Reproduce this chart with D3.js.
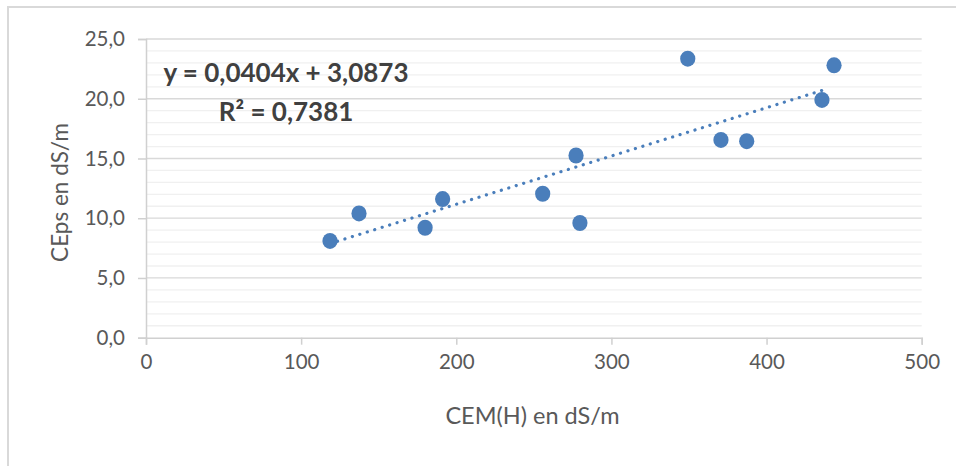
<!DOCTYPE html>
<html><head><meta charset="utf-8">
<script src="https://cdn.jsdelivr.net/npm/d3@7"></script>
<style>body{margin:0;background:#fff}svg{display:block}</style>
</head><body>
<script>
const xValues = [118.6, 137.3, 179.9, 191.2, 255.7, 277.2, 279.7, 349.2, 370.6, 387.2, 435.7, 443.5];
const yValues = [8.1, 10.4, 9.2, 11.6, 12.05, 15.25, 9.6, 23.35, 16.55, 16.45, 19.9, 22.8];
const xTicks = [0, 100, 200, 300, 400, 500];
const yTicks = [0, 5, 10, 15, 20, 25];
const yMinor = d3.range(0, 25.01, 1);
const slope = 0.0404, intercept = 3.0873;
const eqText = "y = 0,0404x + 3,0873";
const r2Text = "R² = 0,7381";
const xTitle = "CEM(H) en dS/m";
const yTitle = "CEps en dS/m";

const W = 956, H = 466;
const svg = d3.select("body").append("svg").attr("width", W).attr("height", H);
const font = "Lato, 'Open Sans', sans-serif";

// frame
svg.append("path").attr("d", `M8,467 L8,7 L957,7`).attr("fill","none").attr("stroke","#d9d9d9").attr("stroke-width",2);

const x = d3.scaleLinear().domain([0, 500]).range([146, 921.7]);
const y = d3.scaleLinear().domain([0, 25]).range([337.7, 39]);

// minor gridlines
svg.append("g").selectAll("line").data(yMinor.filter(v => v % 5 !== 0)).join("line")
  .attr("x1", x(0)).attr("x2", x(500)).attr("y1", d => y(d)).attr("y2", d => y(d))
  .attr("stroke", "#f0f0f0").attr("stroke-width", 1.3);
// major gridlines
svg.append("g").selectAll("line").data(yTicks.filter(v => v > 0)).join("line")
  .attr("x1", x(0)).attr("x2", x(500)).attr("y1", d => y(d)).attr("y2", d => y(d))
  .attr("stroke", "#d9d9d9").attr("stroke-width", 1.3);

// axes
const xAxis = d3.axisBottom(x).tickValues(xTicks).tickSize(7).tickPadding(10).tickFormat(d3.format("d"));
const gx = svg.append("g").attr("transform", `translate(0,${y(0)})`).call(xAxis);
gx.select(".domain").attr("stroke", "#d0d0d0").attr("stroke-width", 1.5);
gx.selectAll(".tick line").attr("stroke", "#d0d0d0").attr("stroke-width", 1.5);
gx.selectAll(".tick text").attr("fill", "#595959").attr("font-size", 20.5).attr("font-family", font);

const yAxis = d3.axisLeft(y).tickValues(yTicks).tickSize(8).tickPadding(13).tickFormat(d => d3.format(".1f")(d).replace(".", ","));
const gy = svg.append("g").attr("transform", `translate(${x(0)},0)`).call(yAxis);
gy.select(".domain").attr("stroke", "#d0d0d0").attr("stroke-width", 1.5);
gy.selectAll(".tick line").attr("stroke", "#d0d0d0").attr("stroke-width", 1.5);
gy.selectAll(".tick text").attr("fill", "#595959").attr("font-size", 20.5).attr("font-family", font);

// trendline
const x0 = d3.min(xValues), x1 = d3.max(xValues);
svg.append("line")
  .attr("x1", x(x0)).attr("y1", y(slope * x0 + intercept))
  .attr("x2", x(x1 - 4)).attr("y2", y(slope * (x1 - 4) + intercept))
  .attr("stroke", "#4a7ebb").attr("stroke-width", 3.2)
  .attr("stroke-linecap", "round").attr("stroke-dasharray", "0.1 7.7");

// points
svg.append("g").selectAll("ellipse").data(xValues.map((v, i) => [v, yValues[i]])).join("ellipse")
  .attr("cx", d => x(d[0])).attr("cy", d => y(d[1])).attr("rx", 7.6).attr("ry", 8)
  .attr("fill", "#4a7ebb");

// equation
svg.append("text").attr("x", 286).attr("y", 82).attr("text-anchor", "middle")
  .attr("font-family", font).attr("font-weight", "bold").attr("font-size", 26).attr("fill", "#404040").text(eqText);
svg.append("text").attr("x", 286).attr("y", 120.5).attr("text-anchor", "middle")
  .attr("font-family", font).attr("font-weight", "bold").attr("font-size", 26).attr("fill", "#404040").text(r2Text);

// titles
svg.append("text").attr("x", 532.5).attr("y", 424).attr("text-anchor", "middle")
  .attr("font-family", font).attr("font-size", 23.5).attr("fill", "#595959").text(xTitle);
svg.append("text").attr("transform", `translate(68,192.5) rotate(-90)`).attr("text-anchor", "middle")
  .attr("font-family", font).attr("font-size", 22.5).attr("fill", "#595959").text(yTitle);
</script>
</body></html>
